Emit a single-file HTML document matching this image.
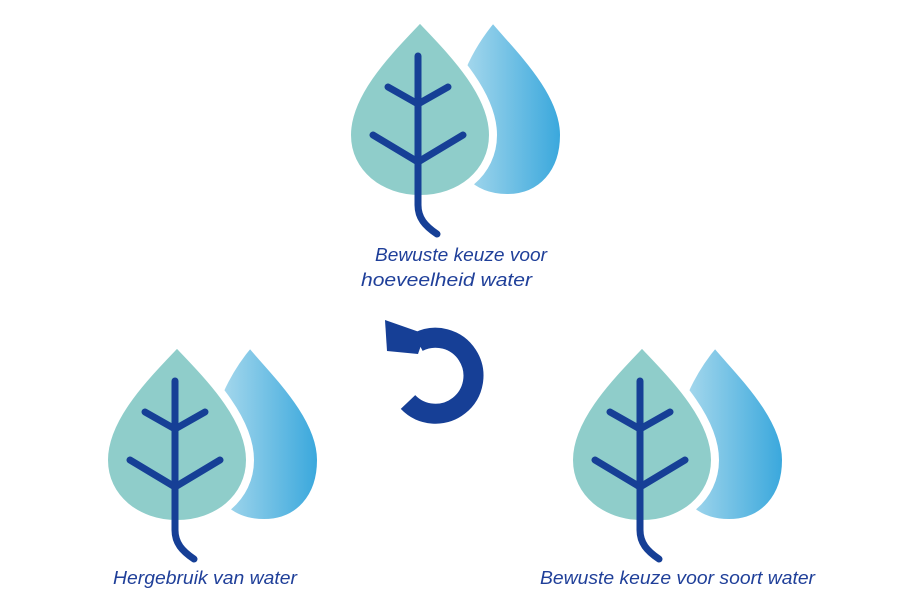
<!DOCTYPE html>
<html><head><style>
html,body{margin:0;padding:0;background:#fff;}
svg{display:block;}
text{font-family:"Liberation Sans",sans-serif;font-style:italic;font-size:18px;fill:#1f3f99;}
</style></head><body>
<svg width="900" height="600" viewBox="0 0 900 600" xmlns="http://www.w3.org/2000/svg">
<defs>
<linearGradient id="dg" x1="0" x2="1" y1="0" y2="0">
<stop offset="0" stop-color="#b8e0ef"/><stop offset="1" stop-color="#36a6dc"/>
</linearGradient>
<g id="icon">
<path d="M493,18 C470,45 448,85 448,135 C448,172 470,198 507,198 C542,198 564,172 564,135 C564,90 515,45 493,18Z" fill="url(#dg)" stroke="#fff" stroke-width="8" stroke-linejoin="round"/>
<path d="M420,18 C395,45 347,90 347,135 C347,173 380,199 420,199 C460,199 493,173 493,135 C493,90 445,45 420,18Z" fill="#8fcdca" stroke="#fff" stroke-width="8" stroke-linejoin="round"/>
<g fill="none" stroke="#163f96" stroke-width="7" stroke-linecap="round" stroke-linejoin="round">
<path d="M418,56 L418,205 C418,218 425,226 437,234"/>
<path d="M388,87 L418,104 L448,87"/>
<path d="M373,135 L418,162 L463,135"/>
</g>
</g>
</defs>
<use href="#icon"/>
<use href="#icon" transform="translate(-243,325)"/>
<use href="#icon" transform="translate(222,325)"/>
<path d="M408,402 A38,38 0 1 0 418,342" fill="none" stroke="#163f96" stroke-width="20"/>
<polygon points="385,320 387,351 418,354 425,334" fill="#163f96"/>
<text x="375" y="261" textLength="172" lengthAdjust="spacingAndGlyphs">Bewuste keuze voor</text>
<text x="361" y="286" textLength="171" lengthAdjust="spacingAndGlyphs">hoeveelheid water</text>
<text x="113" y="584" textLength="184" lengthAdjust="spacingAndGlyphs">Hergebruik van water</text>
<text x="540" y="584" textLength="275" lengthAdjust="spacingAndGlyphs">Bewuste keuze voor soort water</text>
</svg>
</body></html>
